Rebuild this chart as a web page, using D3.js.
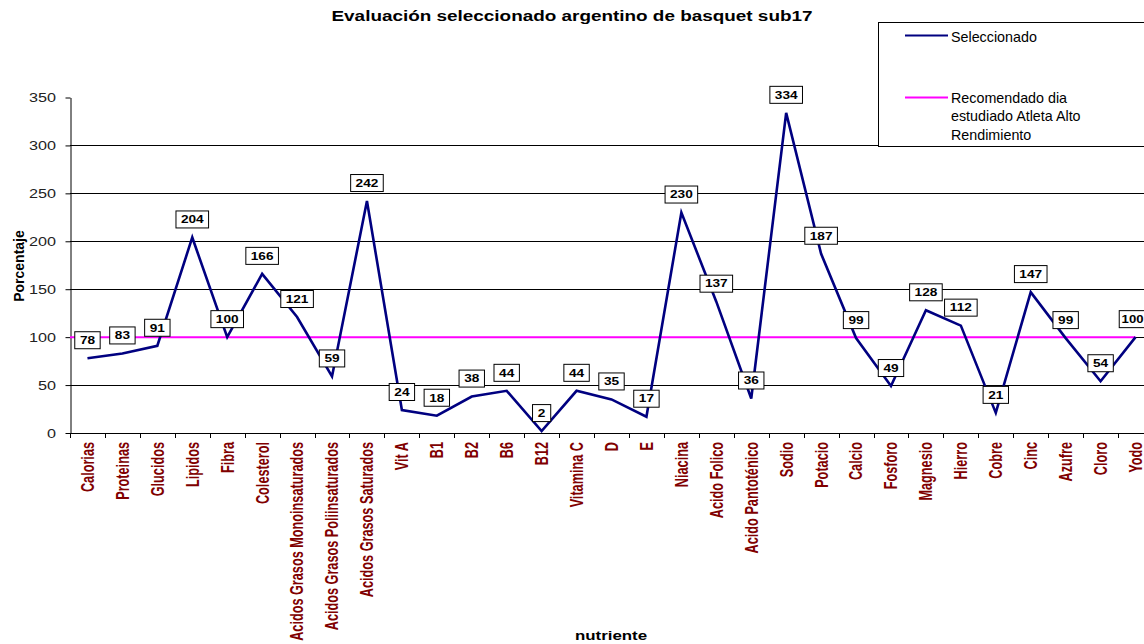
<!DOCTYPE html>
<html>
<head>
<meta charset="utf-8">
<script src="https://cdn.jsdelivr.net/npm/d3@7"></script>
<style>
  body { margin: 0; background: #fff; }
  svg { display: block; font-family: "Liberation Sans", Arial, sans-serif; }
</style>
</head>
<body>
<div id="chart"></div>
<script>
const categorias = [
  'Calorias', 'Proteinas', 'Glucidos', 'Lipidos', 'Fibra', 'Colesterol',
  'Acidos Grasos Monoinsaturados', 'Acidos Grasos Poliinsaturados', 'Acidos Grasos Saturados',
  'Vit A', 'B1', 'B2', 'B6', 'B12', 'Vitamina C', 'D', 'E', 'Niacina', 'Acido Folico',
  'Acido Pantoténico', 'Sodio', 'Potacio', 'Calcio', 'Fosforo', 'Magnesio', 'Hierro',
  'Cobre', 'Cinc', 'Azufre', 'Cloro', 'Yodo'
];
const seleccionado = [
  78, 83, 91, 204, 100, 166, 121, 59, 242, 24, 18, 38, 44, 2, 44, 35, 17,
  230, 137, 36, 334, 187, 99, 49, 128, 112, 21, 147, 99, 54, 100
];
const recomendado = 100;
const yTicks = [0, 50, 100, 150, 200, 250, 300, 350];
const gridTicks = [50, 100, 150, 200, 250, 300];

const width = 1144, height = 644;
const svg = d3.select('#chart').append('svg').attr('width', width).attr('height', height);

const x = d3.scaleBand().domain(categorias).range([70, 1153]).padding(0);
const y = d3.scaleLinear().domain([0, 350]).range([433, 97.5]);
const cx = (d) => x(d) + x.bandwidth() / 2;

// title
svg.append('text')
  .attr('x', 572).attr('y', 21)
  .attr('text-anchor', 'middle')
  .attr('font-size', 14).attr('font-weight', 'bold')
  .attr('textLength', 481).attr('lengthAdjust', 'spacingAndGlyphs')
  .text('Evaluación seleccionado argentino de basquet sub17');

// grid
svg.append('g').selectAll('line').data(gridTicks).enter().append('line')
  .attr('x1', 70).attr('x2', 1153)
  .attr('y1', (d) => Math.round(y(d)) + 0.5).attr('y2', (d) => Math.round(y(d)) + 0.5)
  .attr('stroke', '#000').attr('stroke-width', 1);

// y axis
const yAxis = svg.append('g')
  .attr('transform', 'translate(70.5,0)')
  .call(d3.axisLeft(y).tickValues(yTicks).tickSize(5).tickSizeOuter(0).tickPadding(7));
yAxis.select('.domain').attr('stroke', '#000');
yAxis.selectAll('.tick line').attr('stroke', '#000');
yAxis.selectAll('.tick text')
  .attr('font-size', 13.5).attr('fill', '#222')
  .attr('font-family', '"Liberation Sans", Arial, sans-serif')
  .attr('transform', 'translate(-12,0) scale(1.2,1) translate(10,0)');

// x axis line and ticks at category edges
svg.append('line')
  .attr('x1', 70).attr('x2', 1153).attr('y1', 433.5).attr('y2', 433.5)
  .attr('stroke', '#000');
svg.append('g').selectAll('line').data(categorias.concat([null])).enter().append('line')
  .attr('x1', (d, i) => Math.round(i < categorias.length ? x(d) : x.range()[1]) + 0.5)
  .attr('x2', (d, i) => Math.round(i < categorias.length ? x(d) : x.range()[1]) + 0.5)
  .attr('y1', 433).attr('y2', 438)
  .attr('stroke', '#000');

// category labels
svg.append('g').selectAll('text').data(categorias).enter().append('text')
  .attr('transform', (d) => `translate(${cx(d)},442) scale(1.4,1) rotate(-90)`)
  .attr('text-anchor', 'end')
  .attr('dy', '0.36em')
  .attr('font-size', 12.7).attr('font-weight', 'bold')
  .attr('fill', '#800000')
  .text((d) => d);

// axis titles
svg.append('text')
  .attr('transform', 'translate(19,266) rotate(-90)')
  .attr('text-anchor', 'middle').attr('dy', '0.35em')
  .attr('font-size', 14).attr('font-weight', 'bold')
  .text('Porcentaje');
svg.append('text')
  .attr('transform', 'translate(611,640) scale(1.3,1)')
  .attr('text-anchor', 'middle')
  .attr('font-size', 13).attr('font-weight', 'bold')
  .text('nutriente');

// recommended line
svg.append('line')
  .attr('x1', 70).attr('x2', cx(categorias[categorias.length - 1]))
  .attr('y1', y(recomendado)).attr('y2', y(recomendado))
  .attr('stroke', '#ff00ff').attr('stroke-width', 2);

// selected series
const line = d3.line().x((d, i) => cx(categorias[i])).y((d) => y(d));
svg.append('path')
  .datum(seleccionado)
  .attr('d', line)
  .attr('fill', 'none')
  .attr('stroke', '#000080').attr('stroke-width', 2.6)
  .attr('stroke-linejoin', 'miter');

// data labels
const labels = svg.append('g').selectAll('g').data(seleccionado).enter().append('g')
  .attr('transform', (d, i) => `translate(${cx(categorias[i])},${y(d) - 18})`);
labels.append('rect')
  .attr('x', (d) => -(String(d).length * 7.2 + 11) / 2)
  .attr('y', -8.5)
  .attr('width', (d) => String(d).length * 7.2 + 11)
  .attr('height', 17)
  .attr('fill', '#fff').attr('stroke', '#000').attr('stroke-width', 1);
labels.append('text')
  .attr('transform', (d, i) => i === seleccionado.length - 1 ? 'translate(-3,0) scale(1.25,1)' : 'scale(1.3,1)')
  .attr('text-anchor', 'middle').attr('dy', '0.36em')
  .attr('font-size', 10.5).attr('font-weight', 'bold')
  .text((d) => d);

// legend
const legend = svg.append('g');
legend.append('rect')
  .attr('x', 878.5).attr('y', 22.5).attr('width', 300).attr('height', 124)
  .attr('fill', '#fff').attr('stroke', '#000');
legend.append('line')
  .attr('x1', 905).attr('x2', 948).attr('y1', 35.5).attr('y2', 35.5)
  .attr('stroke', '#000080').attr('stroke-width', 2);
legend.append('text')
  .attr('x', 951).attr('y', 41.5).attr('font-size', 14.3)
  .text('Seleccionado');
legend.append('line')
  .attr('x1', 905).attr('x2', 948).attr('y1', 97.5).attr('y2', 97.5)
  .attr('stroke', '#ff00ff').attr('stroke-width', 2);
const recLines = ['Recomendado dia', 'estudiado Atleta Alto', 'Rendimiento'];
legend.selectAll('text.rec').data(recLines).enter().append('text')
  .attr('class', 'rec')
  .attr('x', 951).attr('y', (d, i) => 102.5 + i * 18.7)
  .attr('font-size', 14.3)
  .text((d) => d);
</script>
</body>
</html>
